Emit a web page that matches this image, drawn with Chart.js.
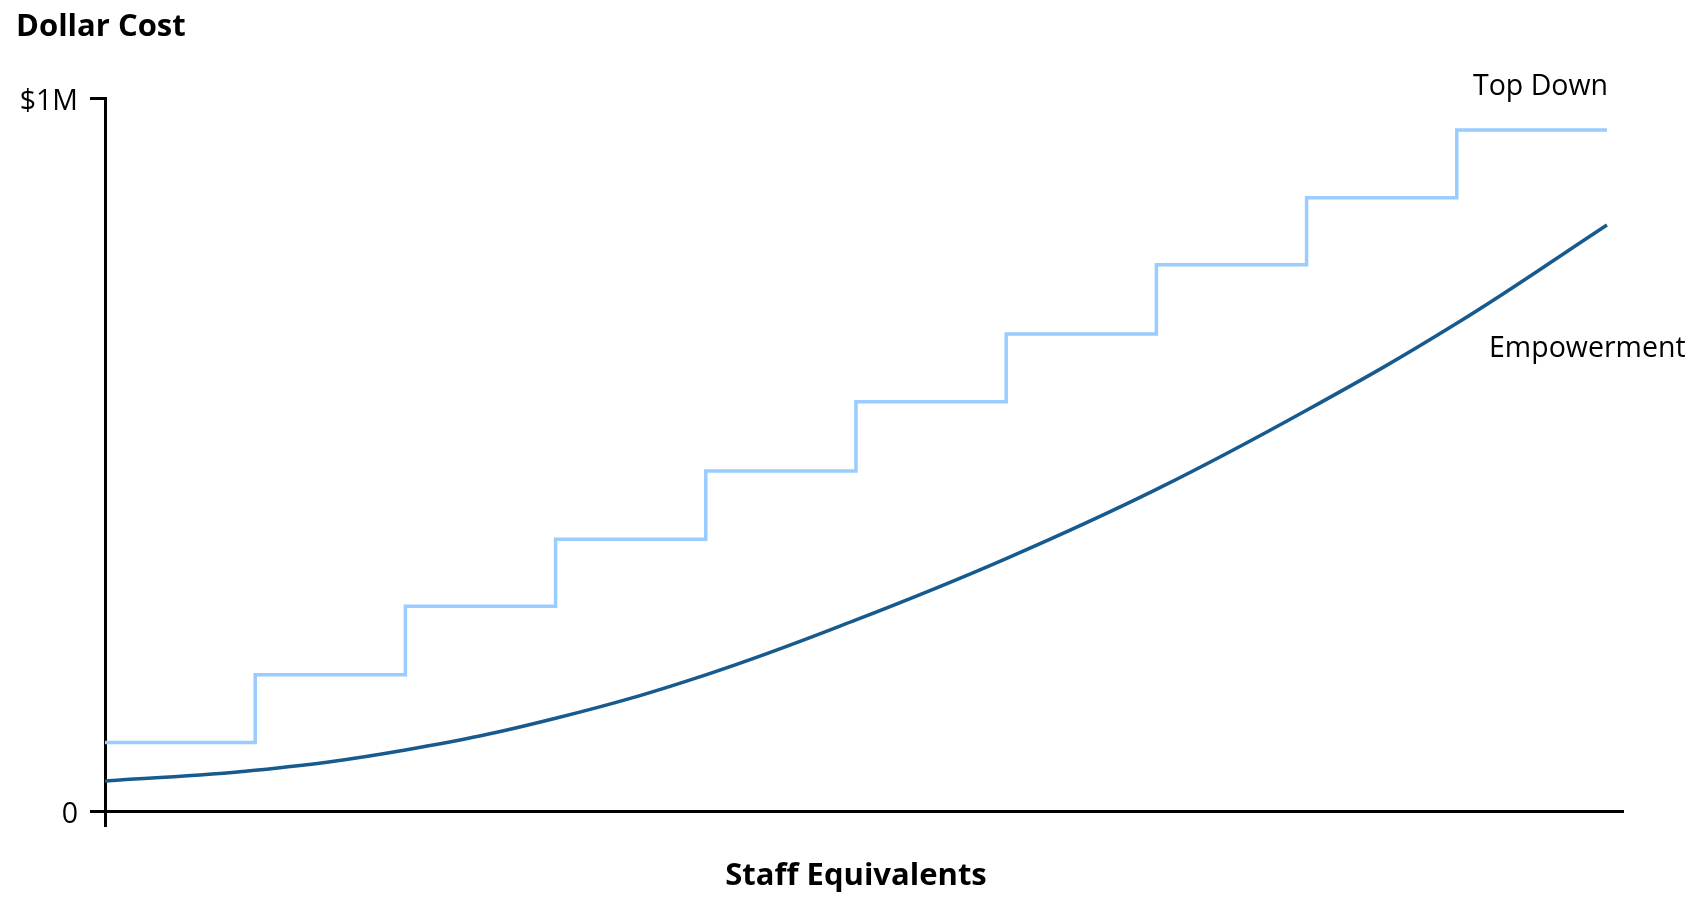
<!DOCTYPE html>
<html>
<head>
<meta charset="utf-8">
<title>Dollar Cost vs Staff Equivalents</title>
<script src="https://cdn.jsdelivr.net/npm/chart.js@4.4.1/dist/chart.umd.min.js"></script>
<style>
  html, body { margin: 0; padding: 0; background: #fff; }
  #wrap { width: 1700px; height: 897px; }
</style>
</head>
<body>
<div id="wrap"><canvas id="chartCost" width="1700" height="897"></canvas></div>
<script>
// staff equivalents (x) and dollar cost (y) per model
const staff = [0, 1, 2, 3, 4, 5, 6, 7, 8, 9, 10];
const topDown = [96000, 191000, 287000, 381000, 477000, 574000, 669000, 766000, 860000, 955000, 955000];
const empowerment = [42000, 57000, 85500, 130000, 191000, 268000, 354000, 451000, 562000, 684000, 822000];

const yTicks = [0, 1000000];
const yTickLabels = ["0", "$1M"];
const xTicks = [0];

const FONT = "'Open Sans', 'Noto Sans', sans-serif";

const toPoints = (ys) => staff.map((x, i) => ({ x: x, y: ys[i] }));

// free text: axis titles and series names
const textLabels = {
  id: "textLabels",
  afterDraw(chart) {
    const ctx = chart.ctx;
    ctx.save();
    ctx.fillStyle = "#000";
    ctx.textBaseline = "alphabetic";

    ctx.font = "bold 31px " + FONT;
    ctx.textAlign = "left";
    ctx.fillText("Dollar Cost", 16, 36);
    ctx.textAlign = "center";
    ctx.fillText("Staff Equivalents", 856, 885);

    ctx.font = "28.5px " + FONT;
    ctx.textAlign = "left";
    ctx.fillText("Top Down", 1473, 95);
    ctx.fillText("Empowerment", 1489, 357);
    ctx.restore();
  },
};

const ctx = document.getElementById("chartCost").getContext("2d");
new Chart(ctx, {
  type: "line",
  data: {
    datasets: [
      {
        label: "Top Down",
        data: toPoints(topDown),
        borderColor: "#99ccff",
        borderWidth: 3.5,
        stepped: true,
        pointRadius: 0,
        fill: false,
      },
      {
        label: "Empowerment",
        data: toPoints(empowerment),
        borderColor: "#175a8e",
        borderWidth: 3.5,
        tension: 0.4,
        pointRadius: 0,
        fill: false,
      },
    ],
  },
  options: {
    responsive: false,
    animation: false,
    layout: { padding: { top: 98, right: 78, left: 0, bottom: 0 } },
    plugins: {
      legend: { display: false },
      tooltip: { enabled: false },
    },
    scales: {
      x: {
        type: "linear",
        min: 0,
        max: 10.1,
        afterBuildTicks: (scale) => {
          scale.ticks = xTicks.map((v) => ({ value: v }));
        },
        afterFit: (scale) => {
          scale.height = 86;
        },
        ticks: { display: false },
        grid: {
          drawOnChartArea: false,
          drawTicks: true,
          tickLength: 16,
          color: "#000",
          lineWidth: 3,
        },
        border: { color: "#000", width: 3 },
      },
      y: {
        min: 0,
        max: 1000000,
        afterBuildTicks: (scale) => {
          scale.ticks = yTicks.map((v) => ({ value: v }));
        },
        afterFit: (scale) => {
          scale.width = 105;
        },
        ticks: {
          color: "#000",
          padding: 12,
          labelOffset: 4,
          font: { family: FONT, size: 28.5 },
          callback: (v) => yTickLabels[yTicks.indexOf(v)],
        },
        grid: {
          drawOnChartArea: false,
          drawTicks: true,
          tickLength: 15,
          color: "#000",
          lineWidth: 3,
        },
        border: { color: "#000", width: 3 },
      },
    },
  },
  plugins: [textLabels],
});
</script>
</body>
</html>
